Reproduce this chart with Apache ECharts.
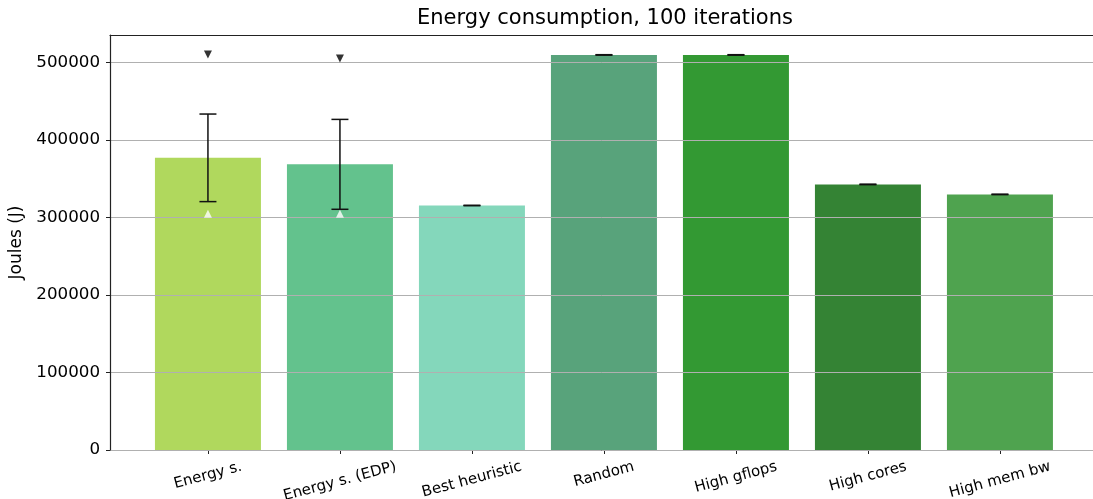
<!DOCTYPE html>
<html><head><meta charset="utf-8">
<script src="https://cdn.jsdelivr.net/npm/echarts@6/dist/echarts.min.js"></script>
<style>html,body{margin:0;padding:0;background:#fff}#c{width:1093px;height:499px}</style>
</head><body><div id="c"></div>
<script>
const categories = ['Energy s.', 'Energy s. (EDP)', 'Best heuristic', 'Random', 'High gflops', 'High cores', 'High mem bw'];
const energy = [377000, 368600, 315500, 509800, 509800, 342700, 329800];
const stdErr = [56500, 58000, 300, 300, 300, 300, 300];
const minVals = [305000, 305000];
const maxVals = [510300, 505200];
const barColors = ['#b0d85d', '#63c28d', '#84d7bb', '#58a37b', '#339933', '#348334', '#4fa34f'];
const yTicks = [0, 100000, 200000, 300000, 400000, 500000];

const font = 'DejaVu Sans';
const labelFontSize = 15;
const labelRot = 15;
const chart = echarts.init(document.getElementById('c'), null, {renderer: 'canvas'});
const idx = categories.map((_, i) => i);

const measureCtx = document.createElement('canvas').getContext('2d');
measureCtx.font = labelFontSize + "px '" + font + "'";
function textW(t) { return measureCtx.measureText(t).width; }

chart.setOption({
  animation: false,
  backgroundColor: '#fff',
  title: {
    text: 'Energy consumption, 100 iterations',
    left: 605, top: 8, textAlign: 'center', padding: 0,
    textStyle: {fontFamily: font, fontSize: 21, fontWeight: 'normal', color: '#000'}
  },
  grid: {left: 110, right: 0, top: 35, bottom: 49, containLabel: false, outerBoundsMode: 'none'},
  xAxis: [{
    type: 'value', min: -0.742, max: 6.705, position: 'bottom',
    axisLine: {show: true, onZero: false, lineStyle: {color: '#222', width: 1.2}},
    axisTick: {show: true, length: 4, customValues: idx, lineStyle: {color: '#222', width: 1}},
    axisLabel: {show: false},
    splitLine: {show: false}
  }, {
    type: 'value', min: -0.742, max: 6.705, position: 'top',
    axisLine: {show: true, onZero: false, lineStyle: {color: '#222', width: 1.2}},
    axisTick: {show: false}, axisLabel: {show: false}, splitLine: {show: false}
  }],
  yAxis: {
    type: 'value', min: 0, max: 535500, interval: 100000, z: 3,
    name: 'Joules (J)', nameLocation: 'middle', nameGap: 70,
    nameTextStyle: {fontFamily: font, fontSize: 17, color: '#000'},
    axisLine: {show: true, onZero: false, lineStyle: {color: '#222', width: 1.2}},
    axisTick: {show: true, length: 4, customValues: yTicks, lineStyle: {color: '#222', width: 1}},
    axisLabel: {customValues: yTicks, margin: 10, formatter: v => String(v),
      fontFamily: font, fontSize: 16.7, color: '#000'},
    splitLine: {show: true, lineStyle: {color: '#b0b0b0', width: 1}}
  },
  series: [{
    type: 'bar', barWidth: 106, z: 2,
    data: energy.map((v, i) => ({value: [i, v], itemStyle: {color: barColors[i]}}))
  }, {
    type: 'custom', z: 5,
    data: energy.map((v, i) => [i, v - stdErr[i], v + stdErr[i]]),
    renderItem: (params, api) => {
      const x = api.value(0);
      const lo = api.coord([x, api.value(1)]);
      const hi = api.coord([x, api.value(2)]);
      const hw = 8.5;
      const st = {stroke: '#111', lineWidth: 1.5};
      return {type: 'group', children: [
        {type: 'line', shape: {x1: lo[0], y1: lo[1], x2: hi[0], y2: hi[1]}, style: st},
        {type: 'line', shape: {x1: lo[0] - hw, y1: lo[1], x2: lo[0] + hw, y2: lo[1]}, style: st},
        {type: 'line', shape: {x1: hi[0] - hw, y1: hi[1], x2: hi[0] + hw, y2: hi[1]}, style: st}
      ]};
    }
  }, {
    type: 'custom', z: 6, clip: false, silent: true,
    data: idx.map(i => [i, 0]),
    renderItem: (params, api) => {
      const i = api.value(0);
      const p = api.coord([i, 0]);
      const t = categories[i];
      const w = textW(t);
      const h = labelFontSize * 1.164;
      const a = labelRot * Math.PI / 180;
      const H = w * Math.sin(a) + h * Math.cos(a);
      return {
        type: 'text', x: p[0], y: p[1] + 8 + H / 2, rotation: a,
        style: {text: t, align: 'center', verticalAlign: 'middle',
          fontFamily: font, fontSize: labelFontSize, fill: '#000'}
      };
    }
  }, {
    type: 'scatter', z: 7, symbol: 'triangle', symbolSize: [8, 8],
    itemStyle: {color: '#fff'},
    data: minVals.map((v, i) => [i, v])
  }, {
    type: 'scatter', z: 7, symbol: 'triangle', symbolSize: [8, 8], symbolRotate: 180,
    itemStyle: {color: '#000'},
    data: maxVals.map((v, i) => [i, v])
  }]
});
</script></body></html>
